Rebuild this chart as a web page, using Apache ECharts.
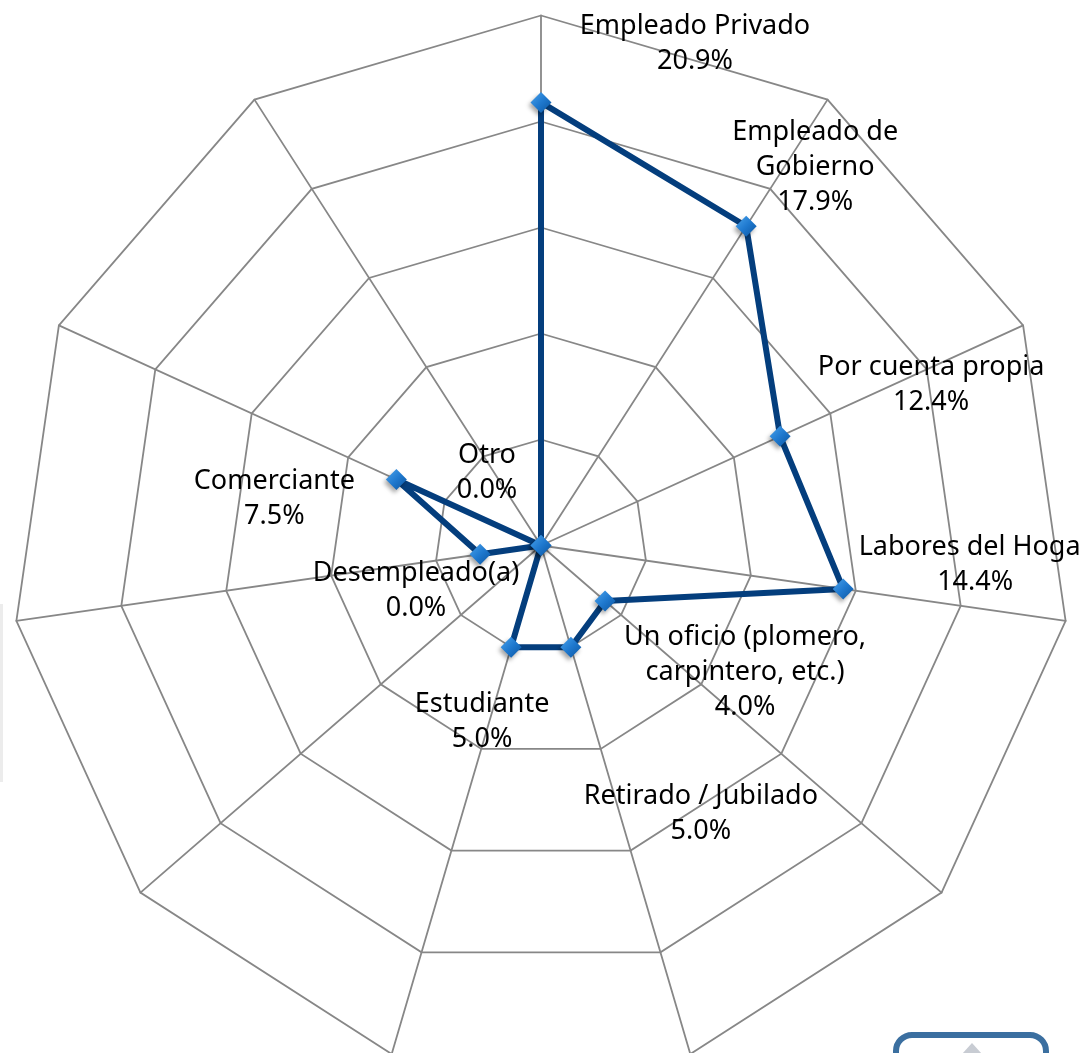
<!DOCTYPE html>
<html>
<head>
<meta charset="utf-8">
<script src="https://cdn.jsdelivr.net/npm/echarts@6/dist/echarts.min.js"></script>
<style>
  html, body { margin: 0; padding: 0; background: #ffffff; }
  #chart { width: 1080px; height: 1053px; }
</style>
</head>
<body>
<div id="chart"></div>
<script>
// Occupation categories, listed clockwise from the top spoke
const categories = [
  'Empleado Privado',
  'Empleado de\nGobierno',
  'Por cuenta propia',
  'Labores del Hogar',
  'Un oficio (plomero,\ncarpintero, etc.)',
  'Retirado / Jubilado',
  'Estudiante',
  'Desempleado(a)',
  '',
  'Comerciante',
  'Otro'
];
// Share of respondents, percent
const shares = [20.9, 17.9, 12.4, 14.4, 4.0, 5.0, 5.0, 0.0, 2.9, 7.5, 0.0];
// Radial scale: 0 .. 25 % in five rings
const axisMax = 25;
const ringCount = 5;

// Layout
const CX = 541, CY = 545.5, R = 530;
// Where each data label sits relative to its vertex (px)
const labelOffsets = [
  [154, -59], [69, -59], [151, -51], [132, -24], [140, 71],
  [130, 167], [-29, 75], [-125, 45], null, [-122, 19], [-54, -73]
];

const n = categories.length;
// ECharts lays radar spokes out counter-clockwise, so feed them reversed
const order = categories.map((_, k) => (n - k) % n);

const chart = echarts.init(document.getElementById('chart'), null, { renderer: 'canvas' });

function vertex(i, v) {
  const a = i * 2 * Math.PI / n;
  const r = R * v / axisMax;
  return [CX + r * Math.sin(a), CY - r * Math.cos(a)];
}

const labelFont = '27px "Noto Sans", "Open Sans", sans-serif';
const labels = [];
categories.forEach((name, i) => {
  const off = labelOffsets[i];
  if (!name || !off) return;
  const p = vertex(i, shares[i]);
  labels.push({
    type: 'text',
    x: p[0] + off[0],
    y: p[1] + off[1],
    z: 20,
    style: {
      text: name + '\n' + shares[i].toFixed(1) + '%',
      font: labelFont,
      fill: '#000000',
      align: 'center',
      verticalAlign: 'middle',
      lineHeight: 35
    }
  });
});

const option = {
  backgroundColor: '#ffffff',
  animation: false,
  radar: {
    center: [CX, CY],
    radius: R,
    startAngle: 90,
    shape: 'polygon',
    splitNumber: ringCount,
    indicator: order.map(i => ({ name: categories[i], min: 0, max: axisMax })),
    axisName: { show: false },
    splitArea: { show: false },
    splitLine: { lineStyle: { color: '#878787', width: 1.8 } },
    axisLine: { lineStyle: { color: '#878787', width: 1.8 } },
    axisTick: { show: false },
    axisLabel: { show: false }
  },
  series: [{
    type: 'radar',
    symbol: 'diamond',
    symbolSize: 21,
    z: 5,
    lineStyle: { color: '#043e7d', width: 6 },
    itemStyle: {
      color: new echarts.graphic.LinearGradient(0, 0, 1, 1, [
        { offset: 0, color: '#4aa3ec' },
        { offset: 0.5, color: '#1f79cf' },
        { offset: 1, color: '#0b55a0' }
      ]),
      borderWidth: 0,
      shadowBlur: 4,
      shadowOffsetX: -2,
      shadowOffsetY: 3,
      shadowColor: 'rgba(0,0,0,0.35)'
    },
    label: { show: false },
    data: [{ value: order.map(i => shares[i]) }]
  }],
  graphic: labels.concat([
    // window chrome bits at the page edges
    {
      type: 'rect', z: 30,
      shape: { x: 0, y: 604, width: 3, height: 178 },
      style: { fill: '#ececec' }
    },
    {
      type: 'rect', z: 30,
      shape: { x: 896, y: 1035, width: 150, height: 40, r: 16 },
      style: { fill: '#ffffff', stroke: '#3b6fa0', lineWidth: 6 }
    },
    {
      type: 'polygon', z: 31,
      shape: { points: [[972, 1043], [962, 1054], [982, 1054]] },
      style: { fill: '#c8ccd3' }
    }
  ])
};

chart.setOption(option);
</script>
</body>
</html>
